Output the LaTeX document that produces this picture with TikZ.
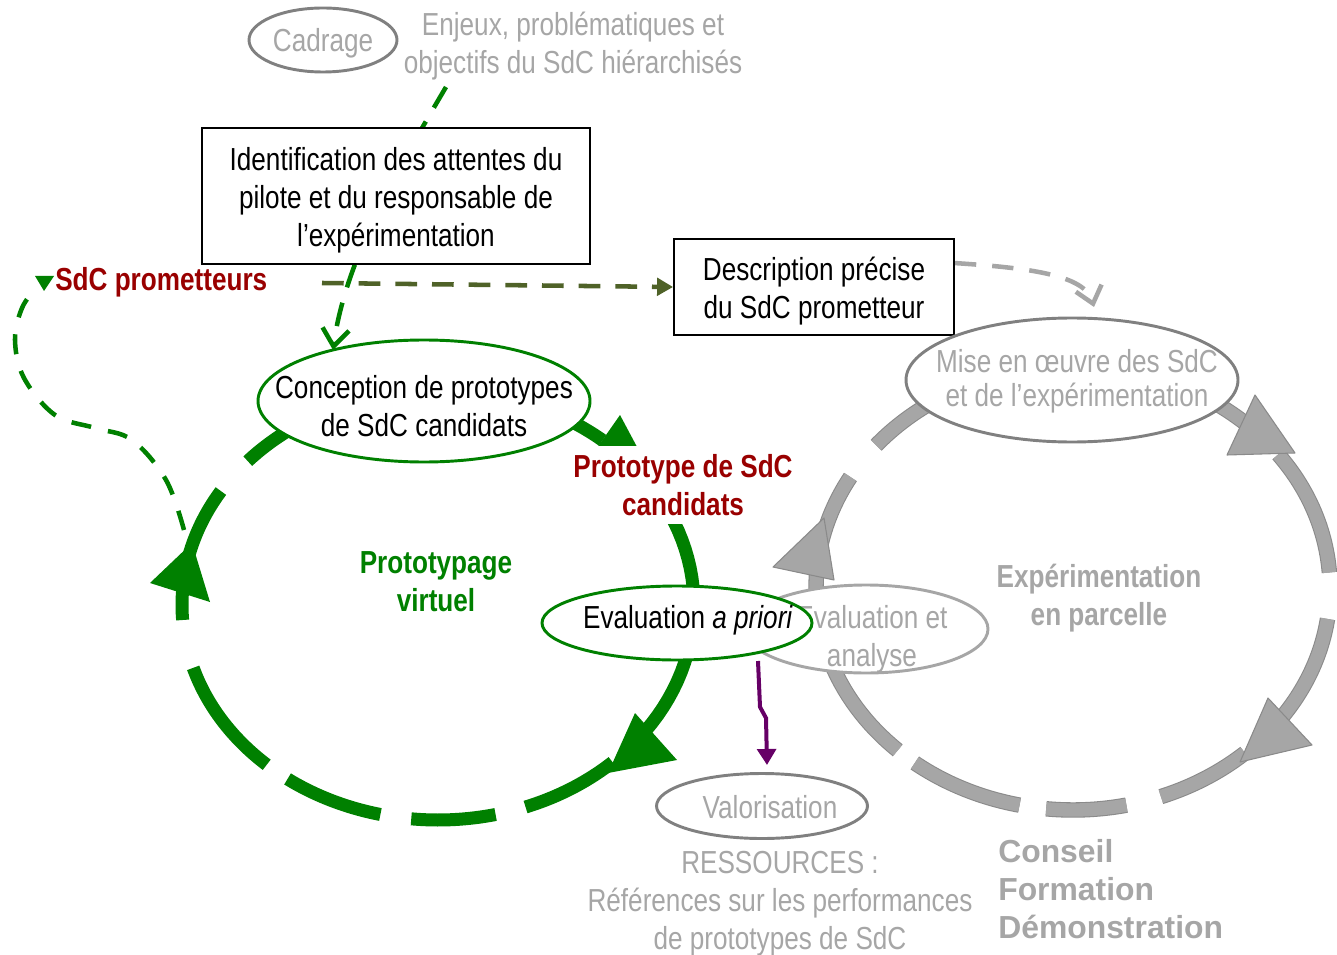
\documentclass[tikz,border=0pt]{standalone}
\usepackage{fontspec}
\setmainfont[FakeStretch=0.82]{Liberation Sans}
\newfontfamily\widefont{Liberation Sans}
\usetikzlibrary{shapes.geometric,arrows.meta,calc}
\definecolor{cGreen}{HTML}{008000}
\definecolor{cRed}{HTML}{990000}
\definecolor{cGrayTxt}{HTML}{A6A6A6}
\definecolor{cGrayLine}{HTML}{808080}
\definecolor{cRing}{HTML}{A6A6A6}
\definecolor{cRingEdge}{HTML}{8A8A8A}
\definecolor{cOlive}{HTML}{4F6228}
\definecolor{cPurple}{HTML}{660066}
\pgfdeclarelayer{bg}
\pgfsetlayers{bg,main}
\newcommand\fsz{\fontsize{23.9pt}{28.5pt}\selectfont}
\newcommand\fszb{\fontsize{23.9pt}{25.5pt}\selectfont}
\newcommand\GArc[2]{\draw[gring] plot[domain=#1:#2,samples=30] ({438+256*cos(\x)},{605+215*sin(\x)});}
\newcommand\RArc[2]{\draw[rring] plot[domain=#1:#2,samples=30] ({1073+257*cos(\x)},{588+222*sin(\x)});}
\begin{document}
\begin{tikzpicture}[x=0.75pt,y=-0.75pt,
  txt/.style={font=\fsz, align=center, inner sep=0pt},
  gtxt/.style={txt, text=cGrayTxt},
  btxt/.style={txt, font=\fsz\bfseries},
  ell/.style={ellipse, fill=white, line width=2.2pt, inner sep=0pt},
  boxn/.style={rectangle, draw=black, fill=white, line width=1.4pt, inner sep=0pt},
  gring/.style={draw=cGreen, line width=9.75pt},
  rring/.style={draw=cRingEdge, line width=0.8pt, double=cRing, double distance=10pt},
  ghead/.style={fill=cGreen},
  rhead/.style={fill=cRing, draw=cRingEdge, line width=0.8pt, line join=round},
  gdash/.style={draw=cGreen, line width=3.4pt, dash pattern=on 18pt off 12pt},
  loopdash/.style={draw=cGreen, line width=3.4pt, dash pattern=on 15pt off 13pt},
]
\useasboundingbox (0,0) rectangle (1337,955);

% ---- nodes ----
\node[ell, draw=cGrayLine, minimum width=148*0.75pt, minimum height=64*0.75pt] (cad) at (323,40) {};
\node[gtxt] at (323,43) {Cadrage};
\node[gtxt] (enj) at (573,46) {Enjeux, problématiques et\\objectifs du SdC hiérarchisés};

\node[boxn, minimum width=388*0.75pt, minimum height=136*0.75pt] (ident) at (396,196) {};
\node[txt] at (396,200) {Identification des attentes du\\pilote et du responsable de\\l’expérimentation};
\node[boxn, minimum width=280*0.75pt, minimum height=96*0.75pt] (desc) at (814,287) {};
\node[txt] at (814,291) {Description précise\\du SdC prometteur};

\node[btxt, text=cRed, anchor=west] (prom) at (55,282) {SdC prometteurs};

\node[ell, draw=cGreen, minimum width=332*0.75pt, minimum height=122*0.75pt] (conc) at (424,401) {};
\node[txt] at (424,406) {Conception de prototypes\\de SdC candidats};

\node[btxt, text=cRed, fill=white, inner xsep=3pt, inner ysep=6pt] (proto) at (683,485) {Prototype de SdC\\candidats};
\node[btxt, text=cGreen] (virt) at (436,582) {Prototypage\\virtuel};

\node[ell, draw=cGrayTxt, minimum width=244*0.75pt, minimum height=88*0.75pt] (evan) at (866,629) {};
\node[gtxt] at (872,639) {Evaluation et\\analyse};
\node[ell, draw=cGreen, minimum width=270*0.75pt, minimum height=74*0.75pt] (eva) at (677,623) {};
\node[txt] at (688,620) {Evaluation \textit{a priori}};

\node[ell, draw=cGrayLine, minimum width=332*0.75pt, minimum height=124*0.75pt] (mise) at (1072,380) {};
\node[gtxt, font=\fszb] at (1077,381) {Mise en œuvre des SdC\\et de l’expérimentation};

\node[btxt, text=cGrayTxt] (exp) at (1099,598) {Expérimentation\\en parcelle};

\node[ell, draw=cGrayLine, minimum width=211*0.75pt, minimum height=65*0.75pt] (valo) at (762,806) {};
\node[gtxt] at (770,807) {Valorisation};
\node[gtxt] (res) at (780,904) {RESSOURCES :\\Références sur les performances\\de prototypes de SdC};
\node[btxt, font=\fsz\widefont\bfseries, text=cGrayTxt, align=left, anchor=west] (cons) at (998,889) {Conseil\\Formation\\Démonstration};

% ---- background: cycles and connectors ----
\begin{pgfonlayer}{bg}
  % green cycle (virtual prototyping)
  \GArc{222}{245}
  \GArc{188}{212}
  \GArc{176}{186}
  \GArc{132}{163}
  \GArc{103}{126}
  \GArc{77}{96}
  \GArc{47}{70}
  \GArc{322}{396}
  \GArc{280}{310}
  \fill[ghead] (635,713) -- (677,760) -- (608,773) -- cycle;
  \fill[ghead] (150,583) -- (192,543) -- (210,602) -- cycle;
  \fill[ghead] (620,415) -- (652,475) -- (585,465) -- cycle;
  % gray cycle (experimentation)
  \RArc{220}{245}
  \RArc{188}{210}
  \RArc{133}{185}
  \RArc{102}{128}
  \RArc{78}{96}
  \RArc{48}{70}
  \RArc{8}{35}
  \RArc{323}{356}
  \RArc{290}{312}
  \filldraw[rhead] (1255,395) -- (1295,453) -- (1227,455) -- cycle;
  \filldraw[rhead] (773,567) -- (824,518) -- (834,580) -- cycle;
  \filldraw[rhead] (1268,698) -- (1312,745) -- (1240,762) -- cycle;

  % connectors
  \coordinate (olS) at (322,283);
  \draw[cOlive, line width=3.4pt, dash pattern=on 16.3pt off 11.2pt,
        -{Triangle[length=12pt,width=13pt]}] (olS) -- (desc.west);

  \coordinate (gS) at (446,87);
  \coordinate (gE) at (333,350);
  \draw[gdash, -{Straight Barb[length=13pt,width=20pt]}] (gS) .. controls (400,165) and (345,260) .. (gE);

  \coordinate (dS) at ($(desc.north east)+(0,25)$);
  \coordinate (mE) at (1094,307);
  \draw[draw=cGrayTxt, line width=3.4pt, dash pattern=on 16pt off 12pt,
        -{Straight Barb[length=12pt,width=20pt]}] (dS) .. controls (1030,268) and (1085,275) .. (mE);

  \coordinate (lS) at (184,530);
  \coordinate (lE) at (36,288);
  \draw[loopdash] plot[smooth, tension=0.6] coordinates {(lS) (166,480) (132,440) (95,428) (55,415) (24,378) (15,340) (22,308) (lE)};
  \fill[cGreen] (35,276) -- (54,276) -- (44,291) -- cycle;

  \coordinate (pS) at (758,661);
  \coordinate (pE) at (767,765);
  \draw[cPurple, line width=3pt, -{Triangle[length=12pt,width=14pt]}] (pS) -- (760,707) -- (766,718) -- (pE);
\end{pgfonlayer}
\end{tikzpicture}
\end{document}
